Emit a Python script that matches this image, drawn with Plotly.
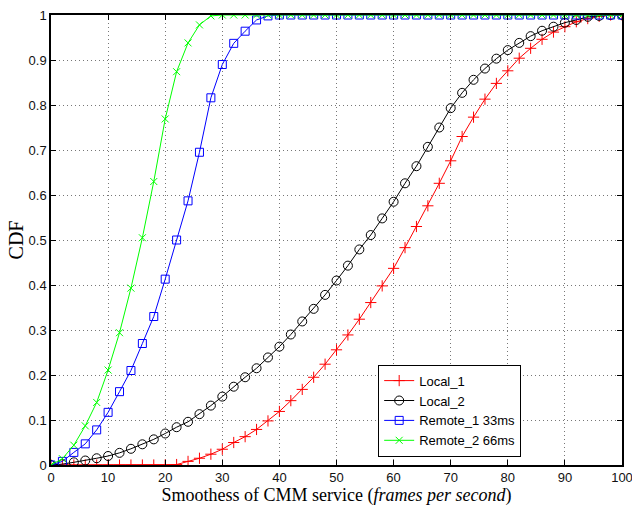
import plotly.graph_objects as go

x = list(range(0, 101, 2))

local_1 = [0, 0, 0, 0, 0, 0, 0, 0, 0, 0, 0, 0.001, 0.008, 0.015, 0.024, 0.035, 0.050, 0.063,
           0.079, 0.098, 0.119, 0.143, 0.168, 0.195, 0.224, 0.256, 0.289, 0.324, 0.361,
           0.398, 0.437, 0.483, 0.530, 0.576, 0.626, 0.676, 0.730, 0.773, 0.813, 0.848,
           0.876, 0.904, 0.926, 0.946, 0.962, 0.974, 0.985, 0.992, 0.997, 1.0, 1.0]

local_2 = [0, 0.002, 0.006, 0.010, 0.015, 0.020, 0.027, 0.036, 0.046, 0.057, 0.070, 0.084,
           0.096, 0.113, 0.132, 0.152, 0.174, 0.195, 0.215, 0.239, 0.263, 0.290, 0.319,
           0.347, 0.378, 0.410, 0.443, 0.479, 0.511, 0.548, 0.585, 0.626, 0.664, 0.707,
           0.750, 0.793, 0.827, 0.856, 0.881, 0.903, 0.922, 0.938, 0.953, 0.965, 0.974,
           0.983, 0.989, 0.996, 0.998, 1.0, 1.0]

remote_1 = [0, 0.008, 0.028, 0.047, 0.078, 0.117, 0.163, 0.210, 0.270, 0.330, 0.413, 0.5,
            0.587, 0.695, 0.816, 0.890, 0.937, 0.964, 0.989, 0.998] + [1.0] * 31

remote_2 = [0, 0.014, 0.044, 0.087, 0.139, 0.211, 0.294, 0.393, 0.505, 0.630, 0.769, 0.874,
            0.938, 0.978, 0.998] + [1.0] * 36

series = [
    ("Local_1", local_1, "#ff0000", "cross-thin-open", 8),
    ("Local_2", local_2, "#000000", "circle-open", 9),
    ("Remote_1 33ms", remote_1, "#0000ff", "square-open", 8),
    ("Remote_2 66ms", remote_2, "#00ff00", "x-thin-open", 7),
]

fig = go.Figure()
for name, ys, color, sym, size in series:
    fig.add_trace(go.Scatter(
        x=x, y=ys, name=name, mode="lines+markers",
        line=dict(color=color, width=1),
        marker=dict(symbol=sym, size=size, color=color, line=dict(color=color, width=1)),
    ))

axis_common = dict(
    showline=True, linecolor="black", linewidth=1.5, mirror="ticks",
    ticks="inside", ticklen=5, tickcolor="black", tickwidth=1,
    showgrid=True, gridcolor="#777777", griddash="1px,3px", gridwidth=1,
    zeroline=False, automargin=False, ticklabeloverflow="allow",
    tickfont=dict(family="Liberation Sans, Arial, sans-serif", size=13, color="#111111"),
)

fig.update_layout(
    width=632, height=508,
    margin=dict(l=51, r=10, t=15, b=43, autoexpand=False),
    paper_bgcolor="white", plot_bgcolor="white",
    xaxis=dict(range=[0, 100], dtick=10, title=dict(
        text="Smoothess of CMM service (<i>frames per second</i>)",
        font=dict(family="Liberation Serif, Times New Roman, serif", size=18, color="black"),
        standoff=0), **axis_common),
    yaxis=dict(range=[0, 1], dtick=0.1, tickformat="~g", title=dict(
        text="CDF",
        font=dict(family="Liberation Serif, Times New Roman, serif", size=20, color="black"),
        standoff=0), **axis_common),
    legend=dict(
        x=0.573, y=0.223, xanchor="left", yanchor="top",
        bgcolor="white", bordercolor="black", borderwidth=1,
        font=dict(family="Liberation Sans, Arial, sans-serif", size=13, color="black"),
        tracegroupgap=0, itemwidth=30,
    ),
    showlegend=True,
)

fig.write_html("out.html")
